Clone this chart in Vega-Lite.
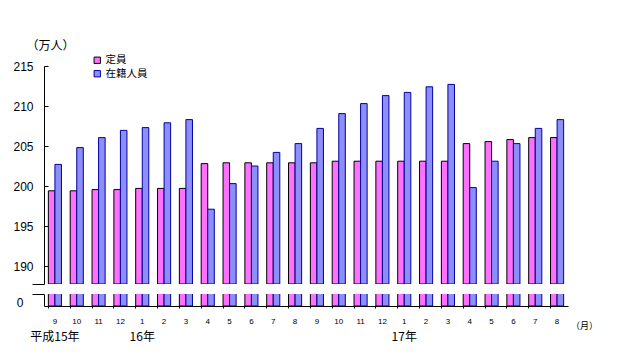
{
  "$schema": "https://vega.github.io/schema/vega-lite/v6.json",
  "background": "white",
  "padding": {"left": 12, "top": 39, "right": 0, "bottom": 0},
  "config": {
    "view": {"stroke": null},
    "font": "Noto Sans CJK JP",
    "axis": {"labelColor": "black", "domainColor": "black", "tickColor": "black", "titleColor": "black", "grid": false, "labelFont": "Liberation Sans"}
  },
  "spacing": 8,
  "data": {"values": [
    {"ym": "2003-09", "series": "定員", "value": 199.4}, {"ym": "2003-09", "series": "在籍人員", "value": 202.7},
    {"ym": "2003-10", "series": "定員", "value": 199.4}, {"ym": "2003-10", "series": "在籍人員", "value": 204.8},
    {"ym": "2003-11", "series": "定員", "value": 199.55}, {"ym": "2003-11", "series": "在籍人員", "value": 206.05},
    {"ym": "2003-12", "series": "定員", "value": 199.55}, {"ym": "2003-12", "series": "在籍人員", "value": 206.95},
    {"ym": "2004-01", "series": "定員", "value": 199.7}, {"ym": "2004-01", "series": "在籍人員", "value": 207.3},
    {"ym": "2004-02", "series": "定員", "value": 199.7}, {"ym": "2004-02", "series": "在籍人員", "value": 207.9},
    {"ym": "2004-03", "series": "定員", "value": 199.7}, {"ym": "2004-03", "series": "在籍人員", "value": 208.3},
    {"ym": "2004-04", "series": "定員", "value": 202.8}, {"ym": "2004-04", "series": "在籍人員", "value": 197.1},
    {"ym": "2004-05", "series": "定員", "value": 202.9}, {"ym": "2004-05", "series": "在籍人員", "value": 200.3},
    {"ym": "2004-06", "series": "定員", "value": 202.9}, {"ym": "2004-06", "series": "在籍人員", "value": 202.5},
    {"ym": "2004-07", "series": "定員", "value": 202.9}, {"ym": "2004-07", "series": "在籍人員", "value": 204.2},
    {"ym": "2004-08", "series": "定員", "value": 202.9}, {"ym": "2004-08", "series": "在籍人員", "value": 205.3},
    {"ym": "2004-09", "series": "定員", "value": 202.9}, {"ym": "2004-09", "series": "在籍人員", "value": 207.2},
    {"ym": "2004-10", "series": "定員", "value": 203.1}, {"ym": "2004-10", "series": "在籍人員", "value": 209.05},
    {"ym": "2004-11", "series": "定員", "value": 203.1}, {"ym": "2004-11", "series": "在籍人員", "value": 210.3},
    {"ym": "2004-12", "series": "定員", "value": 203.1}, {"ym": "2004-12", "series": "在籍人員", "value": 211.3},
    {"ym": "2005-01", "series": "定員", "value": 203.1}, {"ym": "2005-01", "series": "在籍人員", "value": 211.7},
    {"ym": "2005-02", "series": "定員", "value": 203.1}, {"ym": "2005-02", "series": "在籍人員", "value": 212.4},
    {"ym": "2005-03", "series": "定員", "value": 203.1}, {"ym": "2005-03", "series": "在籍人員", "value": 212.7},
    {"ym": "2005-04", "series": "定員", "value": 205.3}, {"ym": "2005-04", "series": "在籍人員", "value": 199.8},
    {"ym": "2005-05", "series": "定員", "value": 205.55}, {"ym": "2005-05", "series": "在籍人員", "value": 203.1},
    {"ym": "2005-06", "series": "定員", "value": 205.8}, {"ym": "2005-06", "series": "在籍人員", "value": 205.3},
    {"ym": "2005-07", "series": "定員", "value": 206.05}, {"ym": "2005-07", "series": "在籍人員", "value": 207.2},
    {"ym": "2005-08", "series": "定員", "value": 206.05}, {"ym": "2005-08", "series": "在籍人員", "value": 208.3}
  ]},
  "resolve": {"legend": {"fill": "independent", "stroke": "independent"}},
  "vconcat": [
    {
      "width": 524,
      "height": 218,
      "mark": {"type": "bar", "clip": true, "strokeWidth": 1},
      "encoding": {
        "x": {"field": "ym", "type": "ordinal", "axis": null, "scale": {"paddingInner": 0.4, "paddingOuter": 0.2}},
        "xOffset": {"field": "series", "type": "nominal", "sort": ["定員", "在籍人員"]},
        "y": {
          "field": "value", "type": "quantitative", "stack": null,
          "scale": {"domain": [187.75, 215], "nice": false, "zero": false},
          "axis": {
            "values": [187.75, 190, 195, 200, 205, 210, 215],
            "labelExpr": "datum.value < 189 ? '' : datum.label",
            "tickSize": {"condition": {"test": "datum.value < 189", "value": 12}, "value": -4},
            "labelPadding": 15,
            "labelFontSize": 12,
            "title": "（万人）",
            "titleAngle": 0,
            "titleAlign": "center",
            "titleBaseline": "middle",
            "titleX": 6,
            "titleY": -21,
            "titleFontSize": 12,
            "titleFontWeight": "normal"
          }
        },
        "y2": {"datum": 187.75},
        "fill": {
          "field": "series", "type": "nominal",
          "scale": {"domain": ["定員", "在籍人員"], "range": ["#FF70FF", "#8E8EF8"]},
          "legend": {
            "title": null, "orient": "none", "legendX": 48, "legendY": -11,
            "symbolType": "square", "symbolSize": 40, "symbolStrokeWidth": 1,
            "labelFontSize": 10.5, "labelOffset": 3, "rowPadding": 2.5, "padding": 0, "labelFont": "Noto Sans CJK JP",
            "encode": {"symbols": {"update": {"stroke": {"signal": "datum.value === '定員' ? '#000000' : '#0000A0'"}}}}
          }
        },
        "stroke": {
          "field": "series", "type": "nominal",
          "scale": {"domain": ["定員", "在籍人員"], "range": ["#000000", "#0000A0"]},
          "legend": null
        }
      }
    },
    {
      "width": 524,
      "height": 12,
      "layer": [
        {
          "mark": {"type": "bar", "clip": true, "strokeWidth": 1},
          "encoding": {
            "x": {
              "field": "ym", "type": "ordinal",
              "scale": {"paddingInner": 0.4, "paddingOuter": 0.2},
              "axis": {
                "orient": "bottom",
                "labelExpr": "toNumber(split(datum.label, '-')[1])",
                "labelAngle": 0,
                "labelFontSize": 8,
                "labelPadding": 9,
                "bandPosition": 0,
                "tickSize": 2,
                "title": "（月）",
                "titleX": 540,
                "titleY": 19,
                "titleAlign": "center",
                "titleBaseline": "middle",
                "titleFontSize": 9,
                "titleFontWeight": "normal"
              }
            },
            "xOffset": {"field": "series", "type": "nominal", "sort": ["定員", "在籍人員"]},
            "y": {
              "field": "value", "type": "quantitative", "stack": null,
              "scale": {"domain": [0, 1], "nice": false},
              "axis": {
                "values": [0, 1],
                "labelExpr": "datum.value == 0 ? '0' : ''",
                "tickSize": {"condition": {"test": "datum.value == 1", "value": 12}, "value": 0},
                "labelPadding": 21,
                "labelOffset": -4,
                "labelFontSize": 12,
                "title": null
              }
            },
            "fill": {"field": "series", "type": "nominal", "scale": {"domain": ["定員", "在籍人員"], "range": ["#FF70FF", "#8E8EF8"]}, "legend": null},
            "stroke": {"field": "series", "type": "nominal", "scale": {"domain": ["定員", "在籍人員"], "range": ["#000000", "#0000A0"]}, "legend": null}
          }
        },
        {
          "mark": {"type": "text"},
          "encoding": {
            "x": {
              "field": "ym", "type": "ordinal",
              "axis": {
                "orient": "bottom",
                "labelExpr": "datum.label == '2003-09' ? '平成15年' : datum.label == '2004-01' ? '16年' : datum.label == '2005-01' ? '17年' : ''",
                "labelAngle": 0,
                "labelFont": "Noto Sans CJK JP",
                "labelFontSize": 12,
                "labelPadding": 25,
                "labelBaseline": "top",
                "domain": false,
                "ticks": false,
                "labelOverlap": false,
                "title": null
              }
            },
            "y": {"datum": 0},
            "text": {"value": ""}
          }
        }
      ],
      "resolve": {"axis": {"x": "independent"}}
    }
  ]
}
